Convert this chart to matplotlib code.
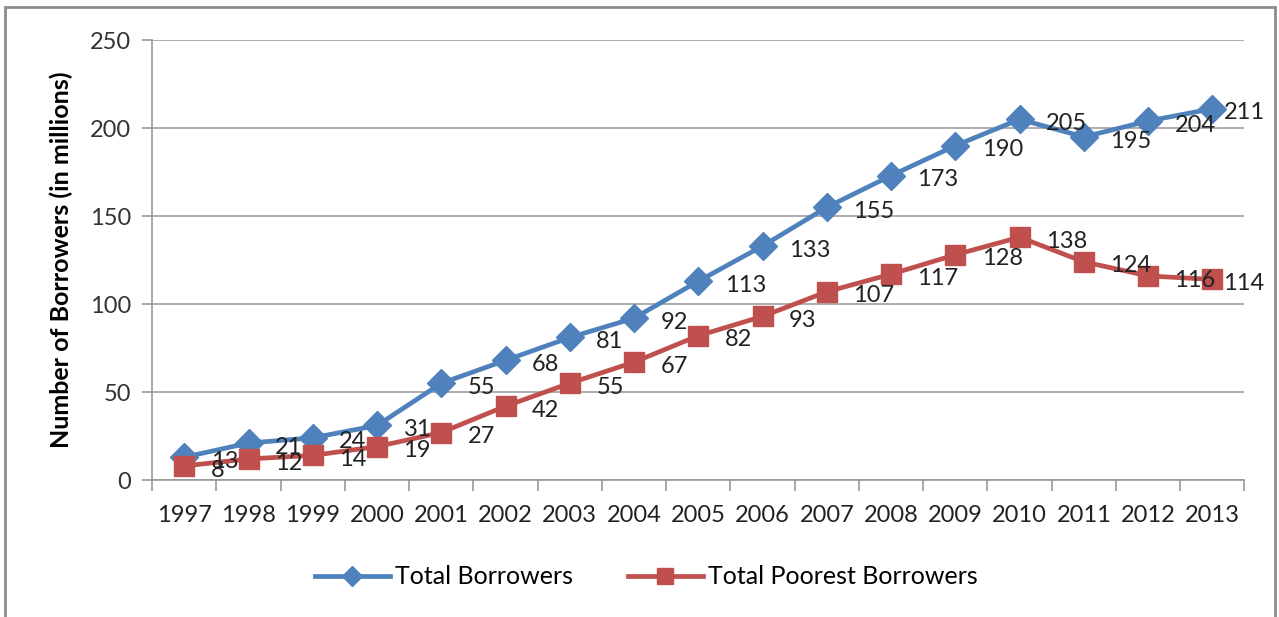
import matplotlib
matplotlib.use("Agg")
import matplotlib.pyplot as plt
from matplotlib.patches import Rectangle

years = ["1997", "1998", "1999", "2000", "2001", "2002", "2003", "2004", "2005",
         "2006", "2007", "2008", "2009", "2010", "2011", "2012", "2013"]
total = [13, 21, 24, 31, 55, 68, 81, 92, 113, 133, 155, 173, 190, 205, 195, 204, 211]
poorest = [8, 12, 14, 19, 27, 42, 55, 67, 82, 93, 107, 117, 128, 138, 124, 116, 114]
y_ticks = [0, 50, 100, 150, 200, 250]

plt.rcParams["font.family"] = ["Lato", "DejaVu Sans"]

fig = plt.figure(figsize=(12.79, 6.17), dpi=100)
ax = fig.add_axes([0.119, 0.222, 0.854, 0.713])

x = list(range(len(years)))
blue = "#4F81BD"
red = "#C0504D"
ax.plot(x, total, color=blue, linewidth=3.4, marker="D", markersize=14,
        label="Total Borrowers", zorder=3)
ax.plot(x, poorest, color=red, linewidth=3.4, marker="s", markersize=15,
        label="Total Poorest Borrowers", zorder=3)

# labels sit right of the marker; the last one is pulled in to stay inside
for series in (total, poorest):
    for xi, v in zip(x, series):
        dx = 8 if xi == x[-1] else 19
        ax.annotate(str(v), xy=(xi, v), xytext=(dx, -3), textcoords="offset points",
                    ha="left", va="center", fontsize=17, color="#222222", zorder=4,
                    annotation_clip=False)

ax.set_xlim(-0.5, len(years) - 0.5)
ax.set_ylim(0, 250)
ax.set_yticks(y_ticks)
ax.set_yticklabels([str(t) for t in y_ticks], fontsize=17, color="#333333")
ax.set_xticks(x)
ax.set_xticklabels(years, fontsize=17, color="#222222")
ax.set_xticks([i - 0.5 for i in range(len(years) + 1)], minor=True)
ax.tick_params(axis="x", which="major", length=0, pad=18)
ax.tick_params(axis="x", which="minor", length=8, color="#999999", width=1.2)
ax.tick_params(axis="y", length=7, color="#999999", width=1.2, pad=8)

ax.grid(axis="y", color="#a0a0a0", linewidth=1.2, zorder=0)
for side in ("top", "right"):
    ax.spines[side].set_visible(False)
for side in ("left", "bottom"):
    ax.spines[side].set_color("#999999")
    ax.spines[side].set_linewidth(1.2)

ax.set_ylabel("Number of Borrowers (in millions)", fontsize=18, fontweight="bold",
              labelpad=12)

fig.legend(loc="center", bbox_to_anchor=(0.505, 0.065), ncol=2, frameon=False,
           fontsize=18, handlelength=3.0, columnspacing=2.2, handletextpad=0.2,
           markerscale=0.75)

fig.patches.append(Rectangle((0.004, -0.01), 0.993, 0.998, transform=fig.transFigure,
                             fill=False, edgecolor="#8c8c8c", linewidth=2))

fig.savefig("out.png", dpi=100)
